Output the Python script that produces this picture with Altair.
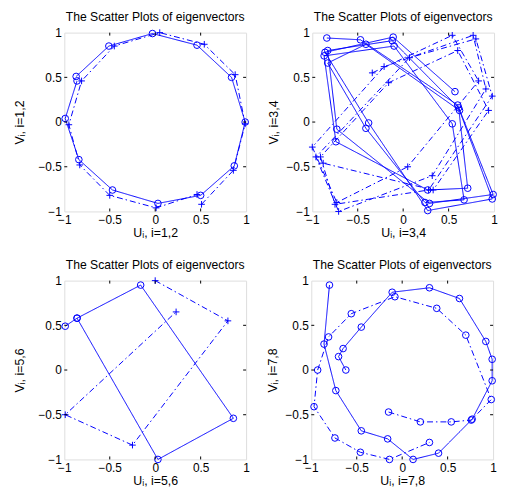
import altair as alt
import pandas as pd

BLUE = "#0000ff"
FONT = "Liberation Sans"
W, H = 184, 181
TICKS = [-1, -0.5, 0, 0.5, 1]
INNER = [-0.5, 0, 0.5]
TITLE = "The Scatter Plots of eigenvectors"

# ---- Panel 1 (i=1,2) ----
p1_solid_u = [-0.87, -0.51, -0.03, 0.46, 0.84, 0.99, 0.87, 0.50, 0.03, -0.47, -0.84, -0.99, -0.86]
p1_solid_v = [0.51, 0.85, 0.99, 0.86, 0.50, 0.00, -0.49, -0.82, -0.91, -0.76, -0.42, 0.04, 0.46]
p1_dash_u = [0.51, 0.86, 0.99, 0.88, 0.54, 0.05, -0.45, -0.81, -0.95, -0.83, -0.50, 0.01, 0.46]
p1_dash_v = [-0.92, -0.54, -0.02, 0.53, 0.87, 1.00, 0.85, 0.46, -0.03, -0.48, -0.82, -0.96, -0.81]

# ---- Panel 2 (i=3,4) ----
p2_solid_u = [-0.84, -0.47, 0.60, 0.99, 0.29, -0.73, -0.83, -0.12, 0.61, 0.71, 0.27, -0.74, -0.87,
              -0.10, 0.54, 0.67, 0.24, -0.41, -0.83, -0.41, 0.62, 0.98, 0.27, -0.38, -0.86, -0.11, 0.57]
p2_solid_v = [0.94, 0.92, 0.19, -0.81, -0.91, -0.08, 0.80, 0.91, 0.16, -0.74, -0.76, -0.22, 0.74,
              0.85, -0.02, -0.87, -0.90, -0.07, 0.66, 0.87, 0.13, -0.86, -0.99, -0.01, 0.78, 0.95, 0.34]
p2_dash_u = [-0.34, 0.54, 0.83, 0.05, -0.73, -1.00, -0.21, 0.77, 0.91, 0.32, -0.71, -0.96, 0.07,
             0.80, 0.98, 0.28, -0.75, -0.91, -0.16, 0.60, 0.94, 0.33, -0.88]
p2_dash_v = [0.55, 0.97, 0.46, -0.50, -0.90, -0.28, 0.62, 0.97, 0.37, -0.60, -1.00, -0.39, 0.72,
             0.93, 0.29, -0.76, -0.92, -0.39, 0.44, 0.80, 0.13, -0.76, -0.46]

# ---- Panel 3 (i=5,6) ----
p3_solid_u = [-0.99, -0.86, -0.16, 0.86, 0.03, -0.86]
p3_solid_v = [0.49, 0.58, 0.95, -0.54, -1.00, 0.58]
p3_dash_u = [0.00, 0.80, -0.25, -0.99, 0.23]
p3_dash_v = [1.00, 0.55, -0.84, -0.50, 0.65]

# ---- Panel 4 (i=7,8) ----
p4_solid_u = [-0.80, -0.86, -0.73, -0.45, -0.16, 0.12, 0.40, 0.77, 0.99, 0.99, 0.92, 0.63, 0.30,
              -0.11, -0.45, -0.65, -0.70, -0.62]
p4_solid_v = [0.95, 0.29, -0.23, -0.68, -0.77, -1.00, -0.93, -0.55, -0.12, 0.12, 0.32, 0.80, 0.92,
              0.87, 0.48, 0.24, 0.15, 0.00]
p4_dash_u = [-0.15, 0.20, 0.54, 0.76, 0.98, 0.70, 0.38, -0.08, -0.56, -0.81, -0.93, -0.97, -0.74,
             -0.46, -0.14, 0.30]
p4_dash_v = [-0.47, -0.58, -0.58, -0.56, -0.33, 0.39, 0.69, 0.82, 0.63, 0.37, 0.00, -0.41, -0.76,
             -0.92, -1.00, -0.81]

PLUS = "M-1,0L1,0M0,-1L0,1"


def sdf(u, v, name):
    return pd.DataFrame({"u": u, "v": v, "s": name, "k": list(range(len(u)))})


def panel(su, sv, du, dv, dash_marker, idx, ytitle_pad):
    df = pd.concat([sdf(su, sv, "solid"), sdf(du, dv, "dash")], ignore_index=True)
    sc = alt.Scale(domain=[-1, 1], nice=False, zero=False)
    ax = dict(values=TICKS, format="~g", grid=False, domain=False, ticks=False, labelFlush=False,
              labelOverlap=False, labelFont=FONT, labelFontSize=12, labelColor="black",
              titleFont=FONT, titleFontSize=12.5, titleFontWeight="normal", titleColor="black",
              labelPadding=3)
    X = alt.X("u:Q", scale=sc, axis=alt.Axis(title=f"U\u1d62, i={idx}", titlePadding=1, **ax))
    Y = alt.Y("v:Q", scale=sc, axis=alt.Axis(title=f"V\u1d62, i={idx}", titlePadding=ytitle_pad, **ax))

    lines = alt.Chart(df).mark_line(color=BLUE, strokeWidth=1).encode(
        x=X, y=Y, order="k:Q", detail="s:N",
        strokeDash=alt.StrokeDash("s:N", scale=alt.Scale(domain=["solid", "dash"],
                                                         range=[[1, 0], [6, 3, 1.5, 3]]), legend=None))
    solid_pts = alt.Chart(df[df.s == "solid"]).mark_point(
        shape="circle", filled=False, size=45, color=BLUE, strokeWidth=1, opacity=1).encode(x=X, y=Y)
    dash_pts = alt.Chart(df[df.s == "dash"]).mark_point(
        shape=("circle" if dash_marker == "o" else PLUS), filled=False, size=45, color=BLUE,
        strokeWidth=1, opacity=1).encode(x=X, y=Y)

    bt = pd.DataFrame({"u": INNER, "v": [-1] * 3})
    tp = pd.DataFrame({"u": INNER, "v": [1] * 3})
    lf = pd.DataFrame({"u": [-1] * 3, "v": INNER})
    rt = pd.DataFrame({"u": [1] * 3, "v": INNER})
    r_b = alt.Chart(bt).mark_rule(color="black", y2Offset=-3).encode(x=X, y=Y, y2="v:Q")
    r_t = alt.Chart(tp).mark_rule(color="black", y2Offset=3).encode(x=X, y=Y, y2="v:Q")
    r_l = alt.Chart(lf).mark_rule(color="black", x2Offset=3).encode(x=X, y=Y, x2="u:Q")
    r_r = alt.Chart(rt).mark_rule(color="black", x2Offset=-3).encode(x=X, y=Y, x2="u:Q")

    return alt.layer(lines, solid_pts, dash_pts, r_b, r_t, r_l, r_r).properties(
        width=W, height=H,
        title=alt.TitleParams(TITLE, font=FONT, fontSize=12.3, fontWeight="normal", color="black",
                              anchor="middle", frame="group", offset=3))


c1 = panel(p1_solid_u, p1_solid_v, p1_dash_u, p1_dash_v, "+", "1,2", 12)
c2 = panel(p2_solid_u, p2_solid_v, p2_dash_u, p2_dash_v, "+", "3,4", 6)
c3 = panel(p3_solid_u, p3_solid_v, p3_dash_u, p3_dash_v, "+", "5,6", 12)
c4 = panel(p4_solid_u, p4_solid_v, p4_dash_u, p4_dash_v, "o", "7,8", 6)

chart = alt.vconcat(
    alt.hconcat(c1, c2, spacing=15),
    alt.hconcat(c3, c4, spacing=15),
    spacing=20,
).properties(
    padding={"left": 4, "top": 0, "right": 0, "bottom": 0}
).configure_view(stroke="black", strokeWidth=1).configure(background="white")

chart.save("out.html", embed_options={"renderer": "svg", "actions": False})
